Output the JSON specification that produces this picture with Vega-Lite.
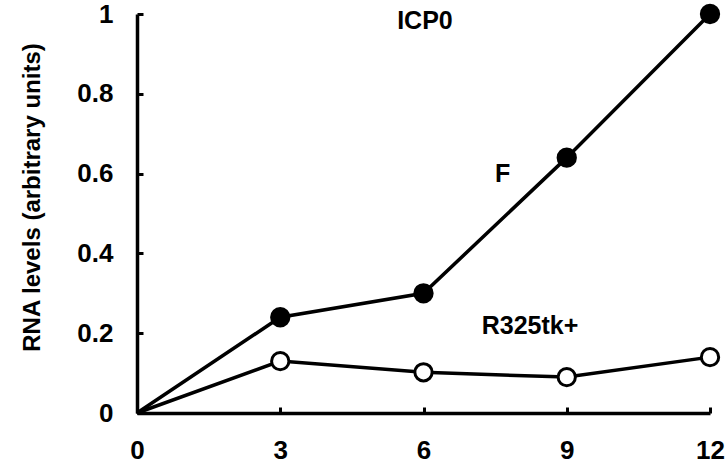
{
  "$schema": "https://vega.github.io/schema/vega-lite/v6.json",
  "width": 573,
  "height": 399,
  "autosize": "none",
  "padding": {"left": 137, "top": 14, "right": 18, "bottom": 59},
  "background": "white",
  "config": {"view": {"stroke": null}, "font": "Liberation Sans"},
  "datasets": {
    "series": [
      {"hour": 0, "virus": "F", "level": 0},
      {"hour": 3, "virus": "F", "level": 0.24},
      {"hour": 6, "virus": "F", "level": 0.30},
      {"hour": 9, "virus": "F", "level": 0.64},
      {"hour": 12, "virus": "F", "level": 1.0},
      {"hour": 0, "virus": "R325tk+", "level": 0},
      {"hour": 3, "virus": "R325tk+", "level": 0.13},
      {"hour": 6, "virus": "R325tk+", "level": 0.102},
      {"hour": 9, "virus": "R325tk+", "level": 0.09},
      {"hour": 12, "virus": "R325tk+", "level": 0.14}
    ],
    "labels": [
      {"hour": 6.03, "level": 0.982, "text": "ICP0"},
      {"hour": 7.66, "level": 0.60, "text": "F"},
      {"hour": 8.23, "level": 0.218, "text": "R325tk+"}
    ]
  },
  "layer": [
    {
      "data": {"name": "series"},
      "mark": {"type": "line", "color": "black", "strokeWidth": 3.5},
      "encoding": {
        "x": {
          "field": "hour", "type": "quantitative",
          "scale": {"domain": [0, 12], "nice": false, "zero": true},
          "axis": {
            "values": [0, 3, 6, 9, 12], "title": null, "grid": false,
            "domainColor": "black", "domainWidth": 3.5,
            "tickColor": "black", "tickWidth": 3, "tickSize": -6,
            "labelFontSize": 26, "labelFontWeight": "bold", "labelColor": "black",
            "labelPadding": 30, "labelFlush": false
          }
        },
        "y": {
          "field": "level", "type": "quantitative",
          "scale": {"domain": [0, 1], "nice": false},
          "axis": {
            "values": [0, 0.2, 0.4, 0.6, 0.8, 1], "format": "~g", "grid": false,
            "title": "RNA levels (arbitrary units)",
            "titleFontSize": 24, "titleFontWeight": "bold", "titleColor": "black",
            "titleBaseline": "middle", "titleX": -105, "titleY": 183, "titleAngle": -90,
            "domainColor": "black", "domainWidth": 3.5,
            "tickColor": "black", "tickWidth": 3, "tickSize": -6,
            "labelFontSize": 26, "labelFontWeight": "bold", "labelColor": "black",
            "labelPadding": 30, "labelFlush": false
          }
        },
        "detail": {"field": "virus"}
      }
    },
    {
      "data": {"name": "series"},
      "transform": [{"filter": "datum.hour > 0"}],
      "mark": {"type": "point", "shape": "circle", "size": 300, "stroke": "black", "strokeWidth": 3, "fillOpacity": 1, "opacity": 1},
      "encoding": {
        "x": {"field": "hour", "type": "quantitative"},
        "y": {"field": "level", "type": "quantitative"},
        "fill": {
          "field": "virus", "type": "nominal",
          "scale": {"domain": ["F", "R325tk+"], "range": ["black", "white"]},
          "legend": null
        }
      }
    },
    {
      "data": {"name": "labels"},
      "mark": {"type": "text", "fontSize": 25, "fontWeight": "bold", "color": "black"},
      "encoding": {
        "x": {"field": "hour", "type": "quantitative"},
        "y": {"field": "level", "type": "quantitative"},
        "text": {"field": "text"}
      }
    }
  ]
}
